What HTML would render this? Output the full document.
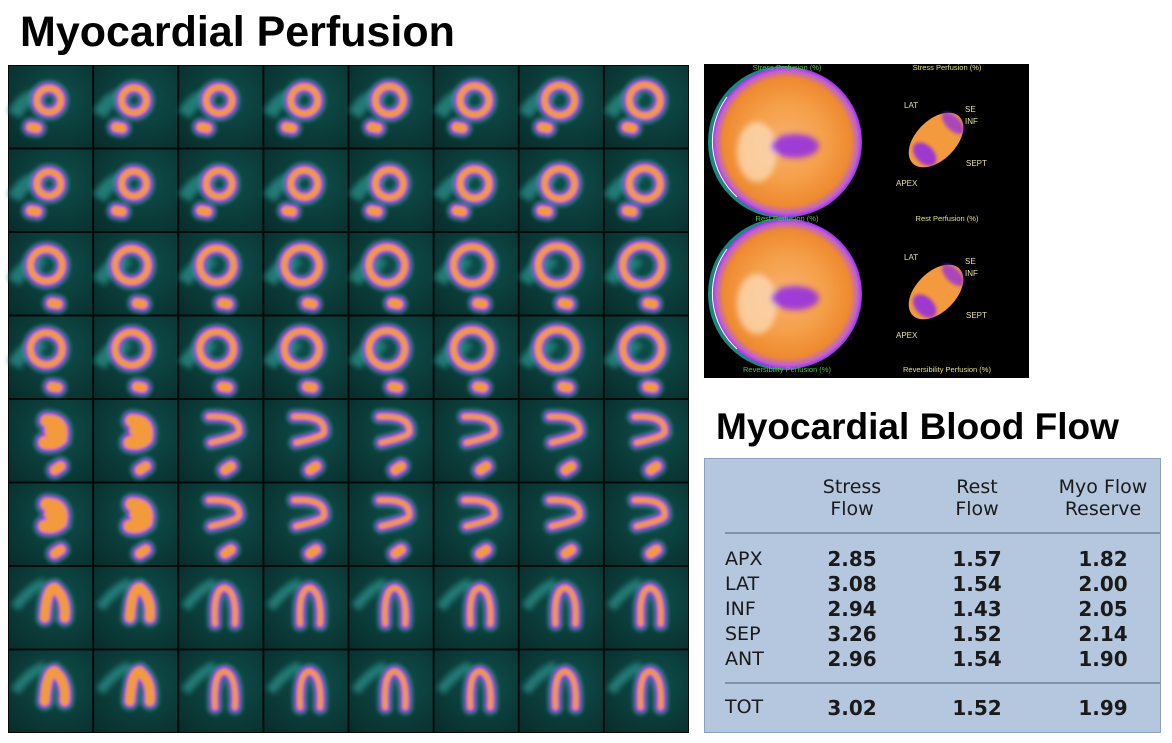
<!DOCTYPE html>
<html><head><meta charset="utf-8"><style>
body{margin:0;width:1172px;height:743px;background:#fff;overflow:hidden;position:relative;font-family:"Liberation Sans",sans-serif}
.t{position:absolute;font-weight:bold;color:#000}
#tbl{position:absolute;left:704px;top:458px;width:457px;height:275px;background:#b4c7df;border:1px solid #8aa0bc;box-sizing:border-box;font-family:"DejaVu Sans","Liberation Sans",sans-serif;color:#1a1a1a}
#tbl div{position:absolute}
.h{font-size:19px;text-align:center;line-height:22px;width:120px}
.r{font-size:19px}
.v{font-size:20px;font-weight:bold;text-align:center;width:120px}
.ln{height:2px;background:#7f93ad;left:20px;right:0}
</style></head><body>
<div class="t" style="left:20px;top:8px;font-size:43px">Myocardial Perfusion</div>
<div class="t" style="left:716px;top:406px;font-size:37px">Myocardial Blood Flow</div>
<svg id="s" width="1172" height="743" style="position:absolute;left:0;top:0"></svg>
<div id="tbl">
<div class="h" style="left:87px;top:17px">Stress<br>Flow</div>
<div class="h" style="left:212px;top:17px">Rest<br>Flow</div>
<div class="h" style="left:338px;top:17px">Myo Flow<br>Reserve</div>
<div class="ln" style="top:73px"></div>
<div class="ln" style="top:223px"></div>
<div class="r" style="left:20px;top:88px;line-height:25px">APX<br>LAT<br>INF<br>SEP<br>ANT</div>
<div class="v" style="left:87px;top:88px;line-height:25px">2.85<br>3.08<br>2.94<br>3.26<br>2.96</div>
<div class="v" style="left:212px;top:88px;line-height:25px">1.57<br>1.54<br>1.43<br>1.52<br>1.54</div>
<div class="v" style="left:338px;top:88px;line-height:25px">1.82<br>2.00<br>2.05<br>2.14<br>1.90</div>
<div class="r" style="left:20px;top:237px">TOT</div>
<div class="v" style="left:87px;top:237px">3.02</div>
<div class="v" style="left:212px;top:237px">1.52</div>
<div class="v" style="left:338px;top:237px">1.99</div>
</div>
<script>
var s=document.getElementById('s'),h='';
h+='<defs><filter id="b" filterUnits="userSpaceOnUse" x="0" y="0" width="1172" height="743"><feGaussianBlur stdDeviation="1.6"/></filter><filter id="b2" filterUnits="userSpaceOnUse" x="0" y="0" width="1172" height="743"><feGaussianBlur stdDeviation="3"/></filter>'+
'<radialGradient id="pm" cx="0.5" cy="0.5" r="0.5"><stop offset="0" stop-color="#f7b070"/><stop offset="0.5" stop-color="#f5a04a"/><stop offset="0.85" stop-color="#ee8a30"/><stop offset="0.95" stop-color="#c060d0"/><stop offset="1" stop-color="#9a30f0"/></radialGradient>'+
'<radialGradient id="bg" cx="0.6" cy="0.4" r="0.8"><stop offset="0" stop-color="#0f4e4b"/><stop offset="1" stop-color="#082e2c"/></radialGradient></defs>';
h+='<rect x="8" y="65" width="681" height="668" fill="#050a0a"/>';
var cw=681/8,ch=668/8;
function sh(d,w1,w2){return '<g filter="url(#b)"><path d="'+d+'" fill="none" stroke="#2f9a92" stroke-width="'+(w1+6)+'" stroke-linecap="round" opacity="0.45"/><path d="'+d+'" fill="none" stroke="#8a22f0" stroke-width="'+w1+'" stroke-linecap="round"/><path d="'+d+'" fill="none" stroke="#f39a3e" stroke-width="'+w2+'" stroke-linecap="round"/></g>';}
for(var r=0;r<8;r++)for(var c=0;c<8;c++){
 var x=8+c*cw+1,y=65+r*ch+1,w=cw-2,hh=ch-2;
 h+='<rect x="'+x+'" y="'+y+'" width="'+w+'" height="'+hh+'" fill="url(#bg)"/>';
 if(r<4){
  var rr=12+(r>=2?4:0)+c*0.5, cx=x+w*(r>=2?0.45:0.48), cy=y+hh*0.42+(r>=2?-2:0);
  h+='<path d="M'+(x+5)+' '+(y+hh*0.6)+' q15 -25 '+(w*0.35)+' -15" stroke="#237a76" stroke-width="14" fill="none" filter="url(#b2)"/>';
  h+=sh('M'+(cx-rr)+' '+cy+' a'+rr+' '+rr+' 0 1 0 '+(2*rr)+' 0 a'+rr+' '+rr+' 0 1 0 '+(-2*rr)+' 0',12,7);
  var bx=x+w*(r>=2?0.55:0.3),by=y+hh*(r>=2?0.86:0.75);
  h+=sh('M'+(bx-3)+' '+by+' l6 1',15,10);
 } else if(r<6){
  var cx=x+w*0.55,cy=y+hh*0.45;
  if(c<2){h+=sh('M'+(cx-8)+' '+(cy-16)+' q18 0 14 18 q-6 6 -16 4 M'+(cx-4)+' '+(cy-6)+' l4 4',18,13);}
  else h+=sh('M'+(cx-16)+' '+(cy-20)+' q32 -2 30 16 M'+(cx-14)+' '+(cy+6)+' q18 -4 26 -8',11,6);
  h+=sh('M'+(x+w*0.55)+' '+(y+hh*0.86)+' l6 -4',15,10);
 } else {
  var cx=x+w*0.55,cy=y+hh*0.5;
  h+='<path d="M'+(x+6)+' '+(cy)+' q15 -20 30 -25" stroke="#237a76" stroke-width="10" fill="none" filter="url(#b2)"/>';
  if(c<2)h+=sh('M'+(cx-10)+' '+(cy+10)+' q2 -30 10 -30 q12 10 10 30',14,10);
  else h+=sh('M'+(cx-10)+' '+(cy+16)+' q-2 -36 10 -36 q12 4 10 36',11,6);
 }
}
h+='<rect x="704" y="64" width="325" height="314" fill="#000"/>';
function pm(cx,cy){return '<ellipse cx="'+(cx-4)+'" cy="'+cy+'" rx="75" ry="76" fill="#1a8a80"/><circle cx="'+cx+'" cy="'+cy+'" r="75" fill="url(#pm)"/><g filter="url(#b2)"><ellipse cx="'+(cx-30)+'" cy="'+(cy+10)+'" rx="20" ry="30" fill="#fde0c0" opacity="0.7"/><ellipse cx="'+(cx+8)+'" cy="'+(cy+4)+'" rx="24" ry="12" fill="#8a22f0" opacity="0.8"/></g><path d="M'+(cx-60)+' '+(cy-45)+' a75 75 0 0 0 10 100" stroke="#fff" stroke-width="1" fill="none"/>';}
h+=pm(787,142)+pm(787,294);
function sm(cx,cy){return '<g transform="rotate(-45 '+cx+' '+cy+')"><ellipse cx="'+cx+'" cy="'+cy+'" rx="33" ry="20" fill="#f39a3e"/><g filter="url(#b)"><ellipse cx="'+(cx-18)+'" cy="'+(cy+2)+'" rx="9" ry="14" fill="#8a22f0" opacity="0.8"/><ellipse cx="'+(cx+24)+'" cy="'+cy+'" rx="7" ry="14" fill="#8a22f0" opacity="0.7"/></g></g>';}
h+=sm(936,140)+sm(936,292);
var tf='font-family="Liberation Sans,sans-serif" font-size="7.5"';
h+='<text x="787" y="70" '+tf+' fill="#4cc24c" text-anchor="middle">Stress Perfusion (%)</text><text x="947" y="70" '+tf+' fill="#e6e08a" text-anchor="middle">Stress Perfusion (%)</text>';
h+='<text x="787" y="221" '+tf+' fill="#4cc24c" text-anchor="middle">Rest Perfusion (%)</text><text x="947" y="221" '+tf+' fill="#e6e08a" text-anchor="middle">Rest Perfusion (%)</text>';
h+='<text x="787" y="372" '+tf+' fill="#4cc24c" text-anchor="middle">Reversibility Perfusion (%)</text><text x="947" y="372" '+tf+' fill="#e6e08a" text-anchor="middle">Reversibility Perfusion (%)</text>';
var lf='font-family="Liberation Sans,sans-serif" font-size="8" fill="#e6e0a0"';
[0,152].forEach(function(d){
h+='<text x="904" y="'+(108+d)+'" '+lf+'>LAT</text><text x="965" y="'+(112+d)+'" '+lf+'>SE</text><text x="965" y="'+(124+d)+'" '+lf+'>INF</text><text x="966" y="'+(166+d)+'" '+lf+'>SEPT</text><text x="896" y="'+(186+d)+'" '+lf+'>APEX</text>';});
s.innerHTML=h;
</script>
</body></html>
